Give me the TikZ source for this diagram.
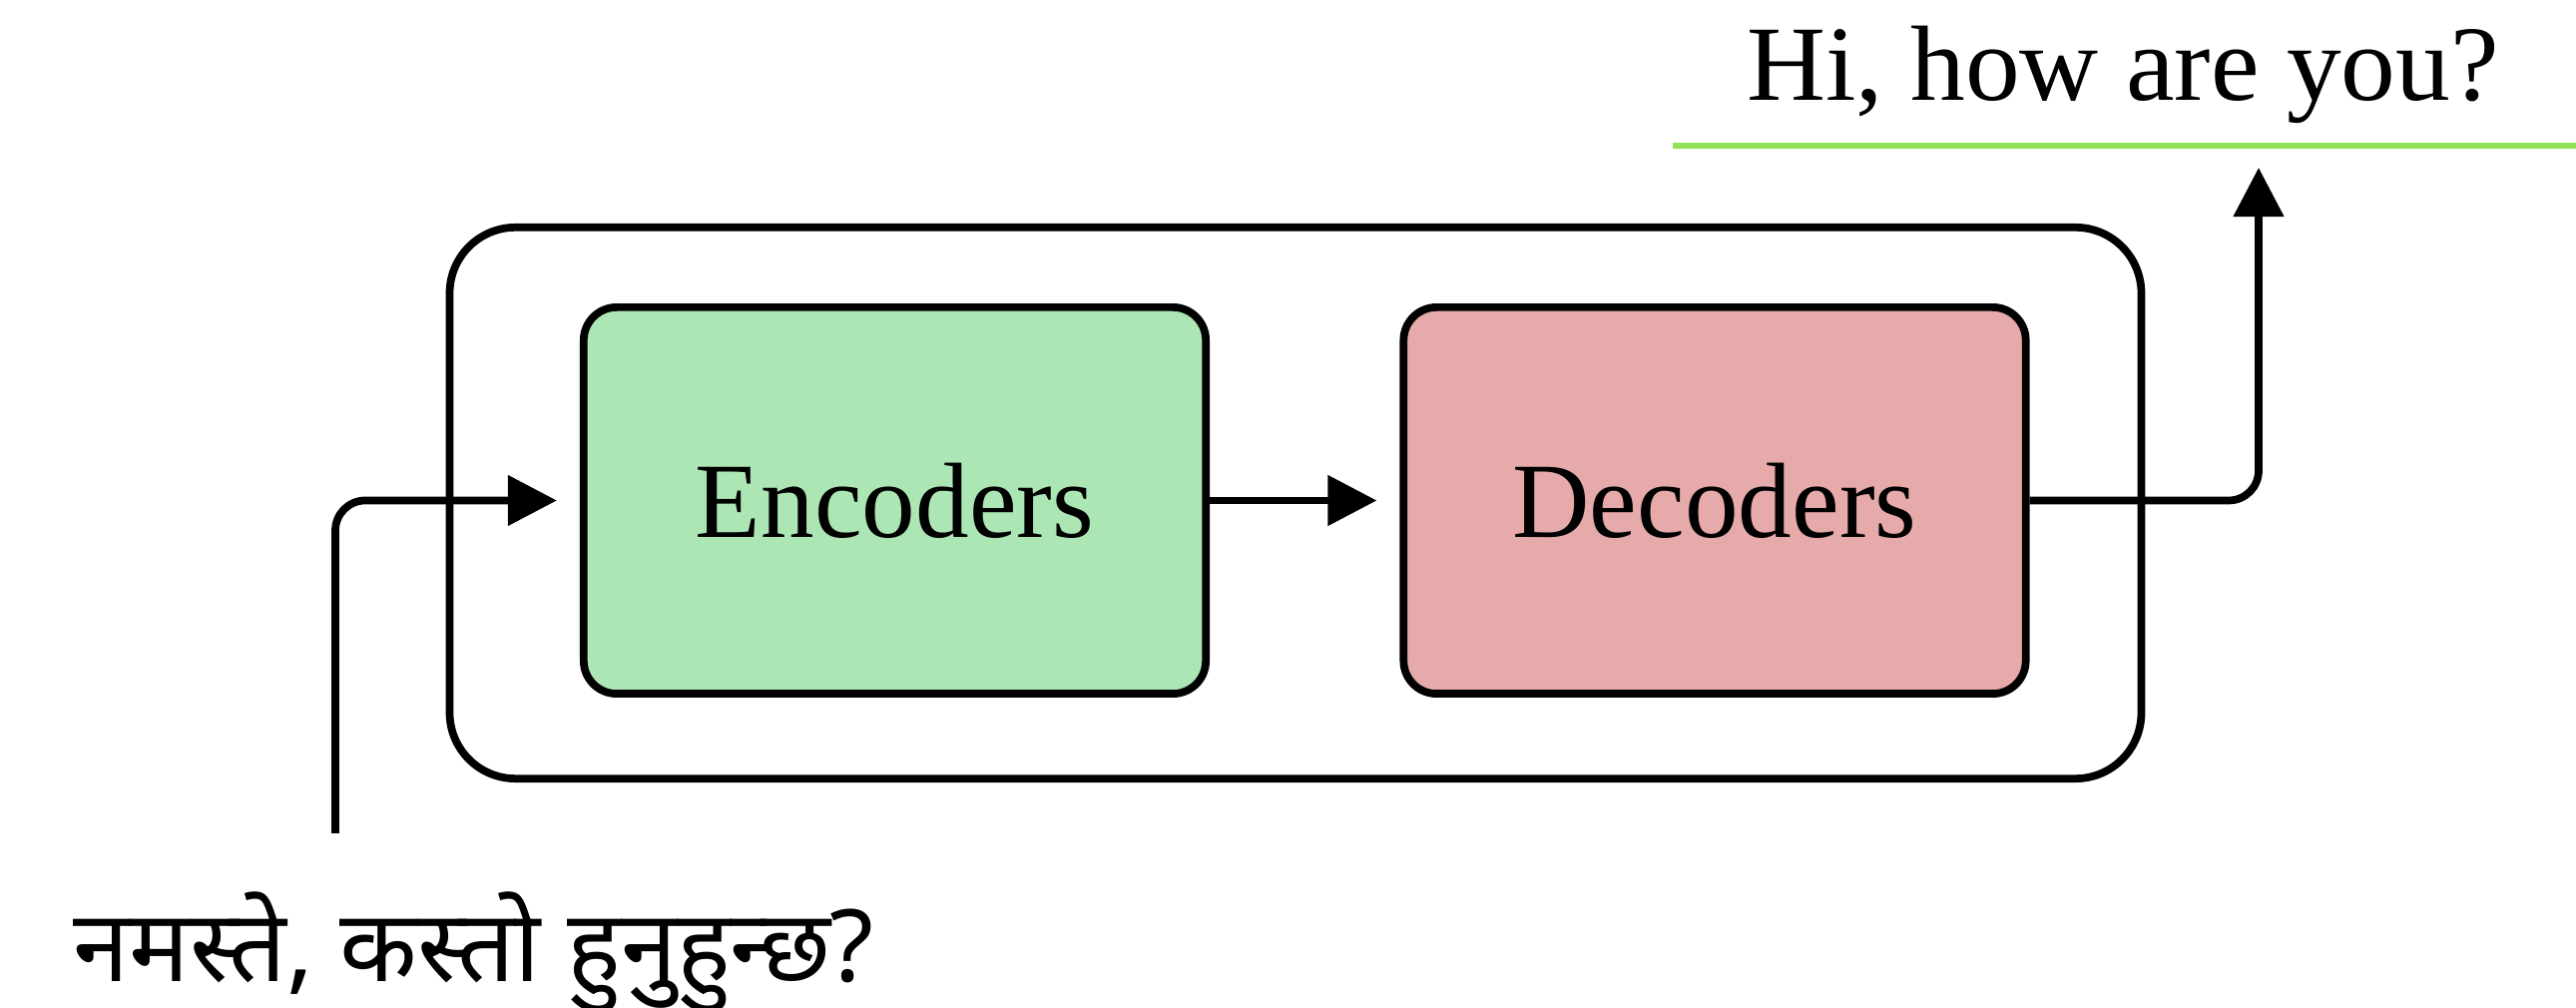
\documentclass[tikz,border=0pt]{standalone}
\usepackage{fontspec}
\setmainfont{Liberation Serif}
\newfontfamily\devfont[Script=Devanagari]{Noto Sans}
\usetikzlibrary{arrows.meta}

\definecolor{encfill}{RGB}{172,230,180}
\definecolor{decfill}{RGB}{230,170,170}
\definecolor{rulegreen}{RGB}{144,226,88}

\tikzset{
  wire/.style={line width=2.2pt, line cap=butt, rounded corners=0.3cm,
    -{Triangle[length=0.49cm,width=0.49cm]}},
  blockbox/.style={draw, line width=2.2pt, rounded corners=0.33cm,
    minimum width=6.23cm, minimum height=3.87cm, inner sep=0pt,
    font=\fontsize{30.5pt}{36pt}\selectfont},
  framebox/.style={draw, line width=2.2pt, rounded corners=0.66cm,
    minimum width=16.94cm, minimum height=5.52cm, inner sep=0pt},
  caption/.style={inner sep=0pt, font=\fontsize{30.5pt}{36pt}\selectfont}
}

\begin{document}
\begin{tikzpicture}[x=0.01cm, y=-0.01cm]
  \useasboundingbox (0,0) rectangle (2581,1010);

  % enclosing model frame
  \node[framebox] (model) at (1298,504) {};

  % encoder and decoder blocks
  \node[blockbox, fill=encfill] (enc) at (896.5,501.5) {Encoders};
  \node[blockbox, fill=decfill] (dec) at (1718,501.5) {Decoders};

  % source sentence and its entry point
  \node[caption, anchor=base west, font=\devfont\fontsize{28.5pt}{34pt}\selectfont]
    (src) at (73,983) {\scalebox{1.01}[1]{नमस्ते, कस्तो हुनुहुन्छ?}};
  \coordinate (srcstart) at (336,835);

  % target sentence with its underline
  \node[caption, anchor=base] (tgt) at (2127,101) {\scalebox{1.02}[1]{Hi, how are you?}};
  \coordinate (ruleL) at (1676,146);
  \coordinate (ruleR) at (2581,146);
  \draw[rulegreen, line width=1.5pt] (ruleL) -- (ruleR);
  \coordinate (outtip) at (2263,168);

  % data flow
  \draw[wire, shorten >=0.23cm] (srcstart) |- (enc.west);
  \draw[wire, shorten >=0.23cm] (enc.east) -- (dec.west);
  \draw[wire] (dec.east) -| (outtip);
\end{tikzpicture}
\end{document}
